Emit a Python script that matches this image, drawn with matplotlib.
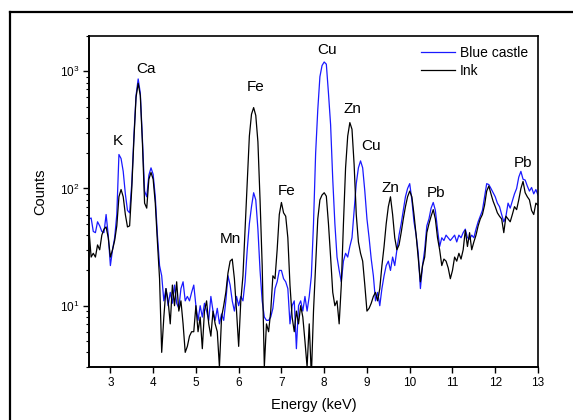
import numpy as np
import matplotlib
matplotlib.use('agg')
import matplotlib.pyplot as plt
from matplotlib.lines import Line2D
from matplotlib.ticker import LogLocator, FixedLocator

plt.rcParams['font.family'] = ['Liberation Sans', 'DejaVu Sans']
plt.rcParams['mathtext.fontset'] = 'custom'
plt.rcParams['mathtext.rm'] = 'Liberation Sans'
plt.rcParams['mathtext.default'] = 'regular'

# energy channels, 2.5 .. 13.0 keV every 0.05 keV
energy = np.round(np.arange(2.5, 13.0001, 0.05), 2)

# counts, one row per keV
blue_castle = [
    55, 56, 43, 42, 52, 48, 43, 42, 60, 40,                                   # 2.5
    22, 30, 38, 60, 195, 180, 140, 90, 65, 62,
    110, 280, 620, 860, 650, 260, 95, 85, 130, 150,                           # 3
    132, 85, 40, 22, 18, 11, 14, 10, 13, 10.5,
    15, 10.5, 9.5, 14, 16, 11, 12, 11, 13, 15,                                # 4
    10, 7.5, 10, 8, 10.5, 9, 7.5, 12, 9, 7.5,
    9.5, 7, 8.5, 7.5, 11, 18, 15, 11, 9, 12,                                  # 5
    10, 12, 11, 16, 30, 50, 70, 92, 80, 45,
    20, 11, 8, 7.5, 7.5, 8, 9.5, 14, 16, 20,                                  # 6
    20, 17, 16, 14, 7, 10, 11, 4.3, 10, 11,
    9, 12, 9, 12, 18, 50, 200, 470, 900, 1120,                                # 7
    1200, 1150, 650, 350, 120, 50, 26, 20, 16, 24,
    28, 26, 32, 38, 65, 110, 150, 172, 150, 95,                               # 8
    55, 38, 25, 18, 11, 13, 10, 14, 18, 22,
    24, 20, 26, 22, 30, 40, 50, 65, 85, 100,                                  # 9
    110, 80, 52, 40, 28, 14, 22, 30, 48, 55,
    68, 76, 65, 45, 32, 38, 36, 40, 38, 36,                                   # 10
    38, 40, 35, 40, 38, 42, 45, 38, 37, 40,
    38, 45, 52, 58, 65, 85, 110, 108, 100, 92,                                # 11
    85, 75, 70, 60, 52, 58, 75, 68, 78, 90,
    100, 125, 140, 120, 118, 105, 95, 102, 90, 98,                            # 12
    88,
]
ink = [
    44, 26, 28, 26, 33, 30, 40, 45, 47, 38,                                   # 2.5
    26, 30, 36, 48, 85, 98, 85, 60, 47, 48,
    100, 260, 600, 790, 620, 240, 75, 68, 120, 137,                           # 3
    120, 75, 35, 17, 4, 8, 14, 11, 7, 15,
    10, 16, 9, 11, 7, 4, 4.5, 5.5, 6, 6,                                      # 4
    10, 6, 8, 4.3, 9, 11, 7, 5.5, 9, 7,
    6, 3, 8, 10, 13, 19, 24, 25, 17, 9,                                       # 5
    4.5, 11, 18, 45, 110, 280, 430, 490, 420, 250,
    80, 22, 3, 7, 6, 9, 18, 17, 30, 60,                                       # 6
    76, 62, 58, 38, 15, 8, 6, 9, 7, 10,
    8, 5, 3, 7, 2.5, 9, 22, 55, 80, 88,                                       # 7
    92, 86, 50, 26, 13, 10, 11, 7, 15, 50,
    150, 280, 365, 320, 160, 60, 35, 28, 24, 15,                              # 8
    9, 9.5, 10.5, 12, 13, 11, 14, 22, 32, 50,
    70, 85, 60, 38, 30, 33, 42, 55, 70, 85,                                   # 9
    95, 85, 60, 40, 25, 16, 22, 26, 42, 50,
    58, 66, 55, 38, 30, 22, 25, 24, 21, 17,                                   # 10
    20, 26, 24, 28, 25, 30, 44, 32, 42, 30,
    35, 40, 48, 55, 60, 72, 95, 105, 90, 78,                                  # 11
    70, 62, 58, 55, 42, 58, 55, 52, 60, 70,
    66, 80, 100, 115, 92, 85, 80, 65, 60, 75,                                 # 12
    72,
]

# peak labels: (energy, counts, text)
peak_x = [3.18, 3.84, 5.81, 6.39, 7.13, 8.07, 8.65, 9.10, 9.55, 10.62, 12.65]
peak_y = [255, 1043, 37, 736, 96, 1520, 475, 231, 101, 92, 165]
peak_names = ['K', 'Ca', 'Mn', 'Fe', 'Fe', 'Cu', 'Zn', 'Cu', 'Zn', 'Pb', 'Pb']

fig = plt.figure(figsize=(5.73, 4.20), dpi=100)
ax = fig.add_axes([89 / 573, 53 / 420, 449 / 573, 331 / 420])

ax.plot(energy, blue_castle, color='#1a1aff', lw=0.9, label='Blue castle')
ax.plot(energy, ink, color='black', lw=0.9, label='Ink')

ax.set_yscale('log')
ax.set_xlim(2.5, 13)
ax.set_ylim(3, 2000)
ax.xaxis.set_major_locator(FixedLocator(range(3, 14)))
ax.yaxis.set_major_locator(LogLocator(base=10, numticks=10))
ax.yaxis.set_minor_locator(LogLocator(base=10, subs=np.arange(2, 10), numticks=10))
ax.yaxis.set_minor_formatter(matplotlib.ticker.NullFormatter())

for name, x, y in zip(peak_names, peak_x, peak_y):
    ax.text(x, y, name, ha='center', va='center', fontsize=11)

ax.spines['top'].set_linewidth(1.2)
ax.spines['right'].set_linewidth(1.2)
ax.spines['left'].set_linewidth(1.4)
ax.spines['bottom'].set_linewidth(1.4)
ax.tick_params(axis='both', which='major', direction='out', length=4.5, width=1.0, labelsize=8.5, pad=2.5)
ax.tick_params(axis='y', which='minor', direction='out', length=2.5, width=0.8)
ax.tick_params(top=False, right=False)

ax.set_xlabel('Energy (keV)', fontsize=10.5)
ax.set_ylabel('Counts', fontsize=10.5)
ax.xaxis.set_label_coords(0.5, -0.095)
ax.yaxis.set_label_coords(-0.094, 0.53)

ax.legend(loc='upper right', frameon=False, fontsize=10, handlelength=2.4,
          handletextpad=0.4, labelspacing=0.3, borderaxespad=0.3)

# outer frame of the original figure
fig.add_artist(Line2D([10 / 573, 10 / 573], [0, 1 - 12 / 420], transform=fig.transFigure,
                      color='black', lw=1.6))
fig.add_artist(Line2D([10 / 573, 1.0], [1 - 12 / 420, 1 - 12 / 420], transform=fig.transFigure,
                      color='black', lw=1.6))

fig.savefig('out.png', dpi=100)
